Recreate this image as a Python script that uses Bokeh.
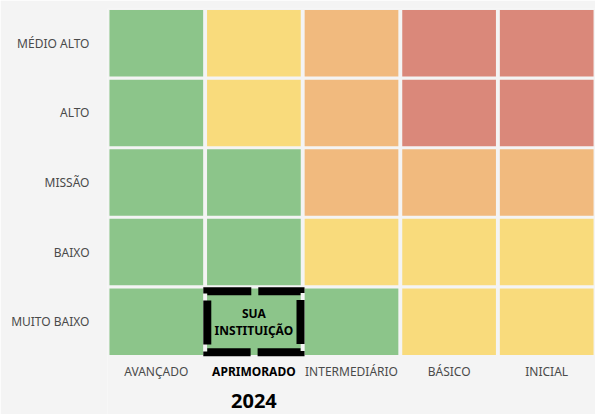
from bokeh.plotting import figure
from bokeh.models import ColumnDataSource, FixedTicker, Range1d
from bokeh.core.properties import value
from bokeh.embed import file_html
from bokeh.resources import INLINE

# ---- data ----
columns = ["AVANÇADO", "APRIMORADO", "INTERMEDIÁRIO", "BÁSICO", "INICIAL"]
rows = ["MUITO BAIXO", "BAIXO", "MISSÃO", "ALTO", "MÉDIO ALTO"]  # bottom -> top
levels = [  # one list per row (bottom -> top), one entry per column
    ["verde", "verde", "verde", "amarelo", "amarelo"],
    ["verde", "verde", "amarelo", "amarelo", "amarelo"],
    ["verde", "verde", "laranja", "laranja", "laranja"],
    ["verde", "amarelo", "laranja", "vermelho", "vermelho"],
    ["verde", "amarelo", "laranja", "vermelho", "vermelho"],
]
palette = {"verde": "#8CC58A", "amarelo": "#F9DB7C", "laranja": "#F1BA7E", "vermelho": "#DA887A"}
highlight_col = "APRIMORADO"
highlight_row = "MUITO BAIXO"
highlight_lines = ["SUA", "INSTITUIÇÃO"]
year_label = "2024"

BG = "#F4F4F4"
FONT = "Noto Sans"
LABEL_COLOR = "#4A4A4A"

xs, ys, cs = [], [], []
for ri, r in enumerate(rows):
    for ci, c in enumerate(columns):
        xs.append(ci + 0.5)
        ys.append(ri + 0.5)
        cs.append(palette[levels[ri][ci]])
src = ColumnDataSource(dict(x=xs, y=ys, color=cs))

# frame extends below the grid so that the column captions sit inside it
px_per_row = 348 / len(rows)
y_bottom = -58 / px_per_row

p = figure(width=595, height=414, output_backend="svg", toolbar_location=None,
           x_range=Range1d(0, len(columns)), y_range=Range1d(y_bottom, len(rows)),
           x_axis_location=None,
           min_border_left=107, min_border_right=0, min_border_top=8, min_border_bottom=0)
p.background_fill_color = BG
p.border_fill_color = BG
p.outline_line_color = None
p.grid.visible = False

p.rect("x", "y", width=0.96, height=0.955, fill_color="color", line_color=None, source=src)

hx = columns.index(highlight_col) + 0.5
hy = rows.index(highlight_row) + 0.5
p.rect([hx], [hy], width=0.955, height=0.875, fill_color=None, line_color="black",
       line_width=8, line_dash="44 7", line_join="miter", line_cap="butt")
n = len(highlight_lines)
p.text([hx] * n, [hy] * n, text=highlight_lines,
       y_offset=[(i - (n - 1) / 2) * 16.7 for i in range(n)],
       text_font=value(FONT), text_font_style="bold",
       text_font_size="12px", text_color="black", text_align="center",
       text_baseline="middle")

# column captions (highlighted column in bold black)
col_src = ColumnDataSource(dict(
    x=[i + 0.5 for i in range(len(columns))],
    y=[-15 / px_per_row] * len(columns),
    text=columns,
    style=["bold" if c == highlight_col else "normal" for c in columns],
    color=["black" if c == highlight_col else LABEL_COLOR for c in columns],
))
p.text("x", "y", text="text", text_font_style="style", text_color="color", source=col_src,
       text_font=value(FONT), text_font_size="12px", text_align="center", text_baseline="middle")

# year caption under the highlighted column
p.text([hx], [-44.5 / px_per_row], text=[year_label], text_font=value(FONT),
       text_font_style="bold", text_font_size="20px", text_color="black",
       text_align="center", text_baseline="middle")

# row axis
yt = [i + 0.5 for i in range(len(rows))]
p.yaxis.ticker = FixedTicker(ticks=yt)
p.yaxis.major_label_overrides = {i + 0.5: r for i, r in enumerate(rows)}
p.yaxis.axis_line_color = None
p.yaxis.major_tick_line_color = None
p.yaxis.minor_tick_line_color = None
p.yaxis.major_label_text_font = FONT
p.yaxis.major_label_text_font_size = "12px"
p.yaxis.major_label_text_color = LABEL_COLOR
p.yaxis.major_label_standoff = 12

open("out.html", "w").write(file_html(p, INLINE))
